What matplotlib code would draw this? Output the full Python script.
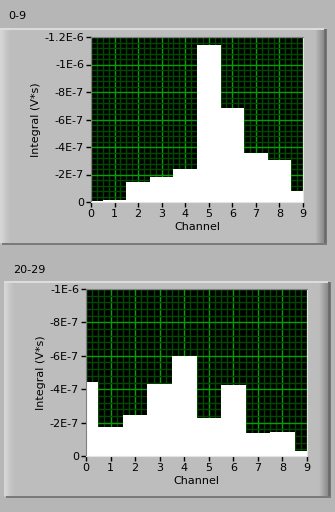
import matplotlib
matplotlib.use('Agg')
from matplotlib import pyplot as plt
from matplotlib.patches import Rectangle
from matplotlib.ticker import FixedLocator, MultipleLocator

# data
channels = [0, 1, 2, 3, 4, 5, 6, 7, 8, 9]
integral_0_9 = [-0.5e-8, -1.5e-8, -1.48e-7, -1.82e-7, -2.4e-7,
                -1.14e-6, -6.84e-7, -3.56e-7, -3.05e-7, -8.2e-8]
integral_20_29 = [-4.43e-7, -1.76e-7, -2.45e-7, -4.33e-7, -6.0e-7,
                  -2.28e-7, -4.25e-7, -1.38e-7, -1.44e-7, -3.0e-8]

yticks_0_9 = [0, -2e-7, -4e-7, -6e-7, -8e-7, -1e-6, -1.2e-6]
ylabels_0_9 = ['0', '-2E-7', '-4E-7', '-6E-7', '-8E-7', '-1E-6', '-1.2E-6']
yticks_20_29 = [0, -2e-7, -4e-7, -6e-7, -8e-7, -1e-6]
ylabels_20_29 = ['0', '-2E-7', '-4E-7', '-6E-7', '-8E-7', '-1E-6']

W, H = 335, 512
BG = '#b6b6b6'
FACE = '#bdbdbd'

fig = plt.figure(figsize=(W / 100, H / 100), dpi=100)
fig.patch.set_facecolor(BG)


def box(x, y, w, h, color):
    # rectangle given in pixels from the top-left corner
    fig.add_artist(Rectangle((x / W, 1 - (y + h) / H), w / W, h / H,
                             transform=fig.transFigure, facecolor=color,
                             edgecolor='none', zorder=0))


def panel(x0, y0, x1, y1):
    box(x0, y0, x1 - x0, y1 - y0, FACE)
    # light left strip fading into the face
    left = ['#d6d6d6', '#d4d4d4', '#d2d2d2', '#d0d0d0', '#cbcbcb', '#c8c8c8',
            '#c5c5c5', '#c3c3c3', '#c1c1c1', '#bfbfbf']
    for i, c in enumerate(left):
        box(x0 + i, y0 + 2, 1, y1 - y0 - 4, c)
    # dark right bevel
    right = ['#bbbbbb', '#b6b6b6', '#b0b0b0', '#aaaaaa', '#a4a4a4', '#9e9e9e',
             '#989898', '#929292', '#8c8c8c', '#707070', '#6a6a6a', '#767676']
    for i, c in enumerate(right):
        box(x1 - len(right) + i, y0 + 1, 1, y1 - y0 - 1, c)
    box(x0, y0, x1 - x0 - 3, 1.5, '#dcdcdc')
    box(x0 + 2, y1 - 2, x1 - x0 - 2, 2, '#7a7a7a')


def graph(rect, vals, yticks, ylabels, ymin):
    x0, y0, x1, y1 = rect
    ax = fig.add_axes([x0 / W, 1 - y1 / H, (x1 - x0) / W, (y1 - y0) / H])
    ax.set_facecolor('black')
    ax.set_axisbelow(True)
    ax.fill_between(channels, vals, 0, step='mid', color='white',
                    linewidth=0, zorder=2)
    ax.set_xlim(0, 9)
    ax.set_ylim(0, ymin)
    ax.xaxis.set_major_locator(FixedLocator(channels))
    ax.xaxis.set_minor_locator(MultipleLocator(0.25))
    ax.yaxis.set_major_locator(FixedLocator(yticks))
    ax.yaxis.set_minor_locator(MultipleLocator(4e-8))
    ax.set_yticklabels(ylabels)
    ax.grid(which='major', color='#00a400', linewidth=1)
    ax.grid(which='minor', color='#004a00', linewidth=1)
    ax.tick_params(which='major', length=3.5, width=1, color='black',
                   labelsize=8, pad=1.5)
    ax.tick_params(which='minor', length=0)
    for s in ['left', 'top']:
        ax.spines[s].set_color('#808080')
    for s in ['right', 'bottom']:
        ax.spines[s].set_color('#e4e4e4')
    ax.set_xlabel('Channel', fontsize=8, labelpad=2)
    ax.set_ylabel('Integral (V*s)', fontsize=8, labelpad=2.5)
    return ax


panel(0, 28, 327, 245)
panel(4, 281, 331, 498)

fig.text(8 / W, 1 - 16 / H, '0-9', fontsize=8, va='center', ha='left')
fig.text(13 / W, 1 - 270 / H, '20-29', fontsize=8, va='center', ha='left')

graph((91, 37, 303, 202), integral_0_9, yticks_0_9, ylabels_0_9, -1.2e-6)
graph((86, 289, 307, 456), integral_20_29, yticks_20_29, ylabels_20_29, -1e-6)

fig.savefig('out.png', dpi=100, facecolor=fig.get_facecolor())
